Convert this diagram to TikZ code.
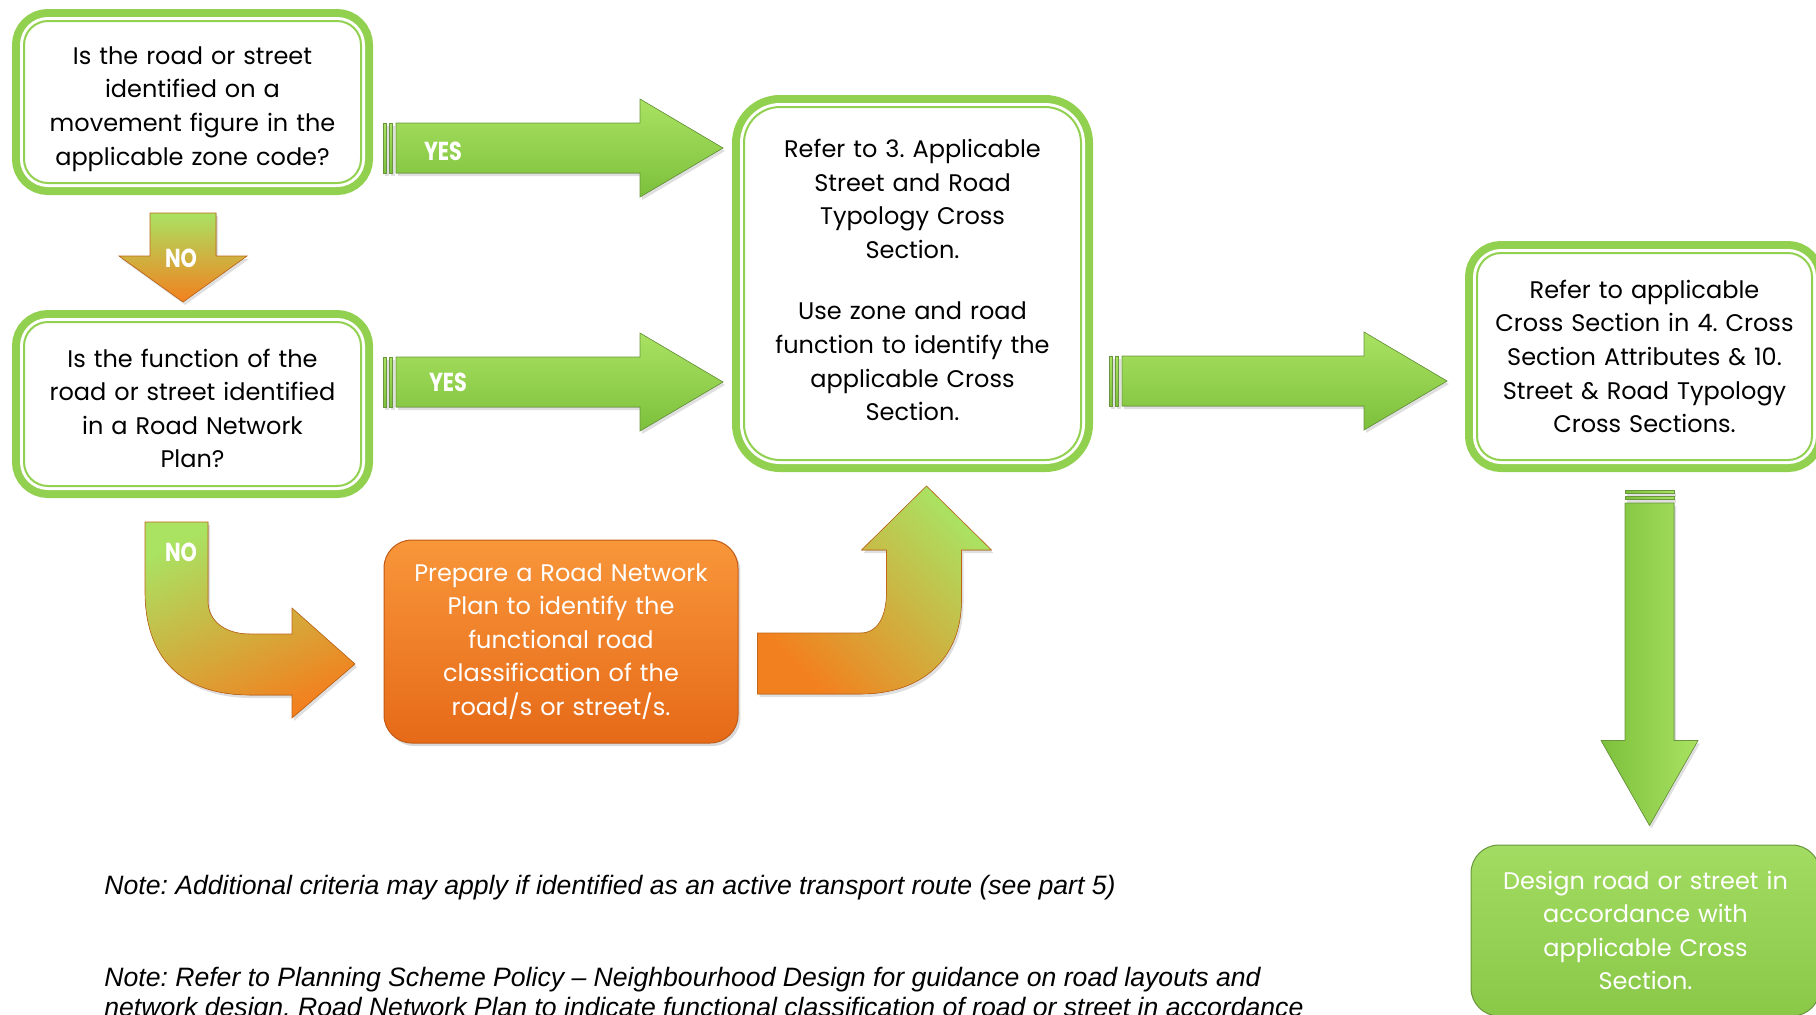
\documentclass[tikz,border=0pt]{standalone}
\usepackage{fontspec}
\setmainfont{Poppins}
\newfontfamily\tagfont[FakeStretch=0.8]{Poppins}
\newfontfamily\notefont{Liberation Sans}
\usetikzlibrary{calc,shadows}
\frenchspacing

\definecolor{boxgreen}{RGB}{146,208,80}
\definecolor{arrowlight}{RGB}{170,226,98}
\definecolor{arrowdark}{RGB}{124,192,60}
\definecolor{arrowedge}{RGB}{105,150,60}
\definecolor{planorange}{RGB}{243,128,30}
\definecolor{orangelight}{RGB}{248,150,58}
\definecolor{orangedark}{RGB}{230,106,24}
\definecolor{designlight}{RGB}{162,220,98}
\definecolor{designdark}{RGB}{138,200,72}

\tikzset{
  question/.style={rounded corners=12pt, fill=white, draw=boxgreen, line width=1pt,
    preaction={draw=boxgreen, line width=12pt},
    preaction={draw=white, line width=4pt},
    minimum width=168.5pt, inner sep=0pt, text width=160pt, align=center,
    font=\fontsize{12}{16.8}\selectfont},
  planbox/.style={rounded corners=14pt, top color=orangelight, bottom color=orangedark,
    draw=orangedark!85!black, line width=0.5pt, text=white,
    drop shadow={opacity=0.3, shadow xshift=1.2pt, shadow yshift=-1.5pt},
    minimum width=177pt, minimum height=101.5pt, inner sep=0pt, text width=165pt,
    align=center, font=\fontsize{12}{16.8}\selectfont},
  designbox/.style={rounded corners=14pt, top color=designlight, bottom color=designdark,
    draw=arrowedge, line width=0.5pt, text=white,
    minimum width=174.5pt, minimum height=85.5pt, inner sep=0pt, text width=165pt,
    align=center, font=\fontsize{12}{16.8}\selectfont},
  greenarrow/.style={top color=arrowlight, bottom color=arrowdark, draw=arrowedge,
    line width=0.3pt, drop shadow={opacity=0.25, shadow xshift=1pt, shadow yshift=-1.5pt}},
  greendown/.style={greenarrow, left color=arrowdark, right color=arrowlight},
  nodown/.style={greenarrow, top color=arrowlight, bottom color=planorange, draw=planorange!80!black},
  nobendfade/.style={greenarrow, top color=arrowlight, bottom color=planorange,
    shading angle=25, draw=planorange!80!black},
  upbendfade/.style={greenarrow, top color=arrowlight, bottom color=planorange,
    shading angle=-45, draw=planorange!80!black},
  tag/.style={text=white, inner sep=0pt, font=\tagfont\bfseries\fontsize{13}{13}\selectfont},
  note/.style={inner sep=0pt, align=left, font=\notefont\itshape\fontsize{13.3}{15}\selectfont}
}

% horizontal block arrow with a striped tail
\newcommand{\rightblock}[2]{%
  \foreach \s in {0pt,3pt}
    \fill[greenarrow] ([xshift=\s,yshift=-12.5pt]#1) rectangle ++(1.8pt,25pt);
  \fill[greenarrow] let \p1=(#1), \p2=(#2) in
    (\x1+6.5pt,\y1+12.5pt) -- (\x2-41.5pt,\y1+12.5pt) -- (\x2-41.5pt,\y1+24.5pt)
    -- (\x2,\y1) -- (\x2-41.5pt,\y1-24.5pt) -- (\x2-41.5pt,\y1-12.5pt)
    -- (\x1+6.5pt,\y1-12.5pt) -- cycle;
}
% vertical block arrow: style, tail, tip, shaft half, head half, head length
\newcommand{\downblock}[6]{%
  \fill[#1] let \p1=(#2), \p2=(#3) in
    (\x1-#4,\y1) -- (\x1+#4,\y1) -- (\x1+#4,\y2+#6) -- (\x1+#5,\y2+#6)
    -- (\x1,\y2) -- (\x1-#5,\y2+#6) -- (\x1-#4,\y2+#6) -- cycle;
}

\begin{document}
\begin{tikzpicture}[x=0.5pt, y=-0.5pt]
\useasboundingbox (0,0) rectangle (1816,1014);
\clip (0,0) rectangle (1816,1014);

% boxes
\node[question, minimum height=81pt] (qa) at (192.5,102)
  {\rule{0pt}{15.9pt}Is the road or street\\identified on a\\movement figure in the\\applicable zone code?};
\node[question, minimum height=82pt] (qb) at (192.5,404)
  {\rule{0pt}{13.5pt}Is the function of the\\road or street identified\\in a Road Network\\Plan?};
\node[question, rounded corners=18pt, minimum height=176.5pt] (refer) at (912.5,283.5)
  {Refer to 3. Applicable\\Street and Road\\Typology Cross\\Section.\\[13.9pt]Use zone and road\\function to identify the\\applicable Cross\\Section.\rule[-3.4pt]{0pt}{0pt}};
\node[question, minimum width=167.5pt, minimum height=103.5pt] (xsec) at (1644.5,356.5)
  {Refer to applicable\\Cross Section in 4. Cross\\Section Attributes \& 10.\\Street \& Road Typology\\Cross Sections.};
\node[planbox] (prep) at (561,641.5)
  {Prepare a Road Network\\Plan to identify the\\functional road\\classification of the\\road/s or street/s.};
\node[designbox] (design) at (1645.5,930.5)
  {Design road or street in\\accordance with\\applicable Cross\\Section.};

% arrow ends
\coordinate (yes1a) at ($(qa.east)+(21,46)$);
\coordinate (yes1b) at ($(refer.west|-yes1a)+(-20,0)$);
\coordinate (yes2a) at ($(qb.east)+(21,-22)$);
\coordinate (yes2b) at ($(refer.west|-yes2a)+(-20,0)$);
\coordinate (crossa) at ($(refer.east)+(27,97.5)$);
\coordinate (crossb) at ($(xsec.west|-crossa)+(-29,0)$);
\coordinate (notop) at ($(qa.south)+(-9.5,29)$);
\coordinate (notip) at ($(qb.north)+(-9.5,-19)$);
\coordinate (downtop) at ($(xsec.south)+(5,29)$);
\coordinate (downtip) at ($(design.north)+(4,-19)$);
\coordinate (nobend) at ($(qb.south)+(-47.5,35)$);
\coordinate (upbend) at ($(prep.east)+(19,-8.5)$);

% straight arrows
\rightblock{yes1a}{yes1b}
\rightblock{yes2a}{yes2b}
\rightblock{crossa}{crossb}
\downblock{nodown}{notop}{notip}{16.5pt}{32pt}{23pt}
\foreach \s in {0pt,3pt}
  \fill[greendown] ([xshift=-12.25pt,yshift=-\s]downtop) rectangle ++(24.5pt,-1.8pt);
\downblock{greendown}{$(downtop)+(0,13)$}{downtip}{12.25pt}{24.25pt}{42.5pt}

% bent arrows
\begin{scope}[shift={(nobend)}]
  \fill[nobendfade] (0,0) -- (0,69) .. controls (0,144) and (45,173) .. (105,173)
    -- (147,173) -- (147,196) -- (210,142) -- (147,86) -- (147,112) -- (105,112)
    .. controls (80,112) and (63,99) .. (63,79) -- (63,0) -- cycle;
\end{scope}
\begin{scope}[shift={(upbend)}]
  \fill[upbendfade] (0,0) -- (103,0) .. controls (121,0) and (129,-18) .. (129,-41)
    -- (129,-83) -- (104,-83) -- (169,-147) -- (234,-83) -- (204,-83) -- (204,-33)
    .. controls (204,27) and (163,61) .. (103,61) -- (0,61) -- cycle;
\end{scope}

% labels
\node[tag] (yeslab1) at ($(yes1a)+(60,3)$) {YES};
\node[tag] (yeslab2) at ($(yes2a)+(65,0)$) {YES};
\node[tag] (nolab1) at ($(notop)+(-2,45)$) {NO};
\node[tag] (nolab2) at ($(nobend)+(36,30)$) {NO};

% notes
\node[note, anchor=base west] (note1) at (104,894)
  {Note: Additional criteria may apply if identified as an active transport route (see part 5)};
\node[note, anchor=north west] (note2) at (104,967)
  {Note: Refer to Planning Scheme Policy – Neighbourhood Design for guidance on road layouts and\\network design.  Road Network Plan to indicate functional classification of road or street in accordance};
\end{tikzpicture}
\end{document}
